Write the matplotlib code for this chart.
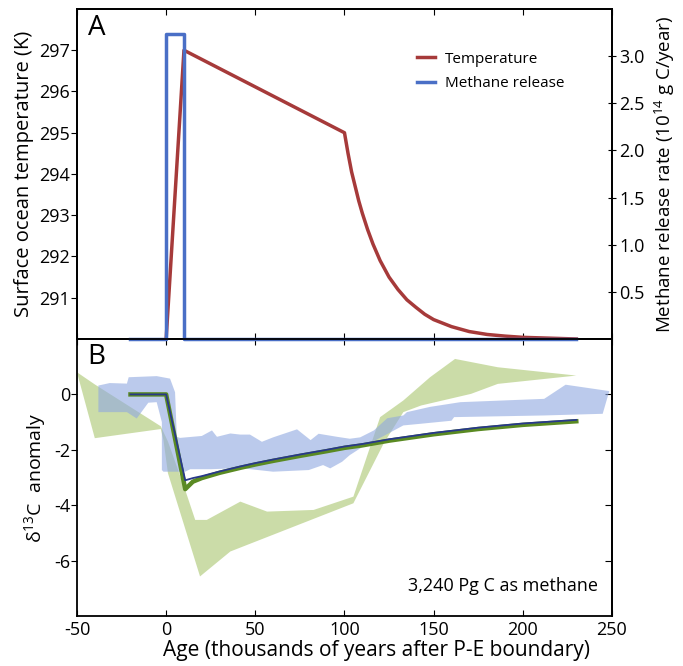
import numpy as np
import matplotlib
matplotlib.use("Agg")
import matplotlib.pyplot as plt

plt.rcParams['font.family'] = ['Open Sans', 'DejaVu Sans']
plt.rcParams['axes.unicode_minus'] = False
plt.rcParams['mathtext.default'] = 'regular'

# ---- panel A data ----
temp_age = [0, 10, 100, 102, 104, 106, 108, 110, 113, 116, 120, 125, 130, 135, 140, 145,
            150, 160, 170, 180, 190, 200, 215, 230]
temp_k = [290.0, 297.0, 295.0, 294.5, 294.05, 293.7, 293.35, 293.05, 292.65, 292.3, 291.9,
          291.5, 291.2, 290.95, 290.77, 290.6, 290.47, 290.3, 290.18, 290.11, 290.07, 290.04,
          290.02, 290.0]

meth_age = [-20, 0, 0, 10, 10, 230]
meth_rate = [0, 0, 3.24, 3.24, 0, 0]

# ---- panel B data ----
model_age = [-20, 0, 10.7, 15, 20, 30, 41.6, 50, 60, 75, 90, 100, 110, 125, 150, 175, 200, 230]
model_blue = [0, 0, -3.1, -3.02, -2.95, -2.78, -2.6, -2.48, -2.35, -2.17, -2.0, -1.88, -1.79,
              -1.62, -1.39, -1.2, -1.05, -0.92]
model_green = [0, 0, -3.42, -3.15, -3.02, -2.83, -2.65, -2.53, -2.4, -2.22, -2.05, -1.93, -1.84,
               -1.67, -1.44, -1.25, -1.1, -0.97]

# green band (upper edge left->right, lower edge right->left)
green_up_age = [-50, -40, -3, 1, 10.7, 16.3, 22.8, 41.6, 56.6, 82.7, 105, 120, 133, 148, 162, 186, 230]
green_up_val = [0.8, 0.36, -1.15, -1.7, -3.45, -4.53, -4.53, -3.87, -4.23, -4.17, -3.69, -0.82,
                -0.22, 0.62, 1.28, 0.98, 0.68]
green_lo_age = [230, 186, 171, 143, 133, 122, 105, 36, 19, 1, -1.5, -3, -40]
green_lo_val = [0.68, 0.38, 0.02, -0.4, -0.64, -1.77, -3.93, -5.67, -6.57, -2.84, -1.65, -1.25, -1.58]

# blue band
blue_up_age = [-38, -31.6, -22, -21, -5.3, 2.2, 5, 6, 7.7, 20, 25.7, 28.5, 36, 41.6, 47, 53.7,
               60, 66, 73.4, 81, 85.5, 95.8, 103, 108.8, 116.5, 124, 133, 135, 148, 165, 212,
               224, 248.5]
blue_up_val = [0.32, 0.41, 0.39, 0.62, 0.66, 0.57, 0.08, -1.53, -1.57, -1.5, -1.3, -1.53, -1.41,
               -1.45, -1.45, -1.71, -1.55, -1.42, -1.26, -1.65, -1.42, -1.53, -1.6, -1.55, -1.3,
               -0.86, -0.76, -0.64, -0.45, -0.28, -0.16, 0.35, 0.12]
blue_lo_age = [244.8, 212, 161.5, 160, 142.7, 133, 122, 110, 103, 98.7, 92, 88, 80, 60, 41.6,
               25, 13.5, 10.7, -1.5, -2.4, -2.4, -5.3, -10, -16.5, -22, -38]
blue_lo_val = [-0.7, -0.76, -0.82, -0.95, -1.06, -1.12, -1.5, -1.9, -2.19, -2.43, -2.67, -2.55,
               -2.73, -2.79, -2.66, -2.7, -2.7, -2.79, -2.79, -2.73, -1.0, -0.28, -0.3, -0.87,
               -0.64, -0.64]

xticks = [-50, 0, 50, 100, 150, 200, 250]

fig = plt.figure(figsize=(6.83, 6.66), dpi=100)
axA = fig.add_axes([0.1127, 0.491, 0.7833, 0.4955])
axB = fig.add_axes([0.1127, 0.075, 0.7833, 0.416])

# Panel A
tl, = axA.plot(temp_age, temp_k, color='#a63a3a', lw=2.5, label='Temperature', zorder=3)
axA.set_xlim(-50, 250)
axA.set_ylim(290, 298)
axA.set_yticks([291, 292, 293, 294, 295, 296, 297])
axA.set_xticks(xticks)
axA.tick_params(axis='x', direction='in', top=True, bottom=True, labelbottom=False, length=4)
axA.tick_params(axis='y', direction='out', length=4, pad=1, labelsize=13)
axA.set_ylabel('Surface ocean temperature (K)', fontsize=14.5, labelpad=4)

axA2 = axA.twinx()
ml, = axA2.plot(meth_age, meth_rate, color='#4a6fc6', lw=2.5, label='Methane release', clip_on=False)
axA2.set_ylim(0, 3.5)
axA2.set_yticks([0.5, 1.0, 1.5, 2.0, 2.5, 3.0])
axA2.tick_params(axis='y', direction='inout', length=6, pad=2, labelsize=13)
axA2.set_ylabel('Methane release rate (10$^{14}$ g C/year)', fontsize=13.5, labelpad=6)
axA2.set_xlim(-50, 250)

axA2.legend(handles=[tl, ml], loc='upper left', bbox_to_anchor=(0.61, 0.912), frameon=False,
            fontsize=11, handlelength=1.2, handletextpad=0.6, labelspacing=0.6)
axA.text(0.02, 0.985, 'A', transform=axA.transAxes, fontsize=20, va='top', ha='left')

# Panel B
axB.fill(green_up_age + green_lo_age, green_up_val + green_lo_val, color='#a9c66e', alpha=0.6,
         lw=0, zorder=1)
axB.fill(blue_up_age + blue_lo_age, blue_up_val + blue_lo_val, color='#8fa8e0', alpha=0.6,
         lw=0, zorder=2)
axB.plot(model_age, model_green, color='#5a8a22', lw=3.2, zorder=3)
axB.plot(model_age, model_blue, color='#28388a', lw=1.3, zorder=4)

axB.set_xlim(-50, 250)
axB.set_ylim(-8, 2)
axB.set_xticks(xticks)
axB.set_yticks([0, -2, -4, -6])
axB.tick_params(axis='x', direction='in', top=True, bottom=True, length=4, labelsize=13)
axB.tick_params(axis='y', direction='out', length=4, pad=1, labelsize=13)
axB2 = axB.secondary_yaxis('right')
axB2.set_yticks([0, -2, -4, -6])
axB2.tick_params(direction='in', length=5, labelright=False)
axB.set_ylabel('\u03b4$^{13}$C  anomaly', fontsize=14, labelpad=4)
axB.set_xlabel('Age (thousands of years after P-E boundary)', fontsize=15, labelpad=2)
axB.xaxis.set_label_coords(0.56, -0.085)
axB.text(0.02, 0.985, 'B', transform=axB.transAxes, fontsize=20, va='top', ha='left')
axB.text(0.974, 0.076, '3,240 Pg C as methane', transform=axB.transAxes, fontsize=13,
         ha='right', va='bottom')

for ax in (axA, axA2, axB):
    for s in ax.spines.values():
        s.set_linewidth(1.3)
axB2.spines['right'].set_linewidth(1.3)

fig.savefig('out.png', dpi=100)
